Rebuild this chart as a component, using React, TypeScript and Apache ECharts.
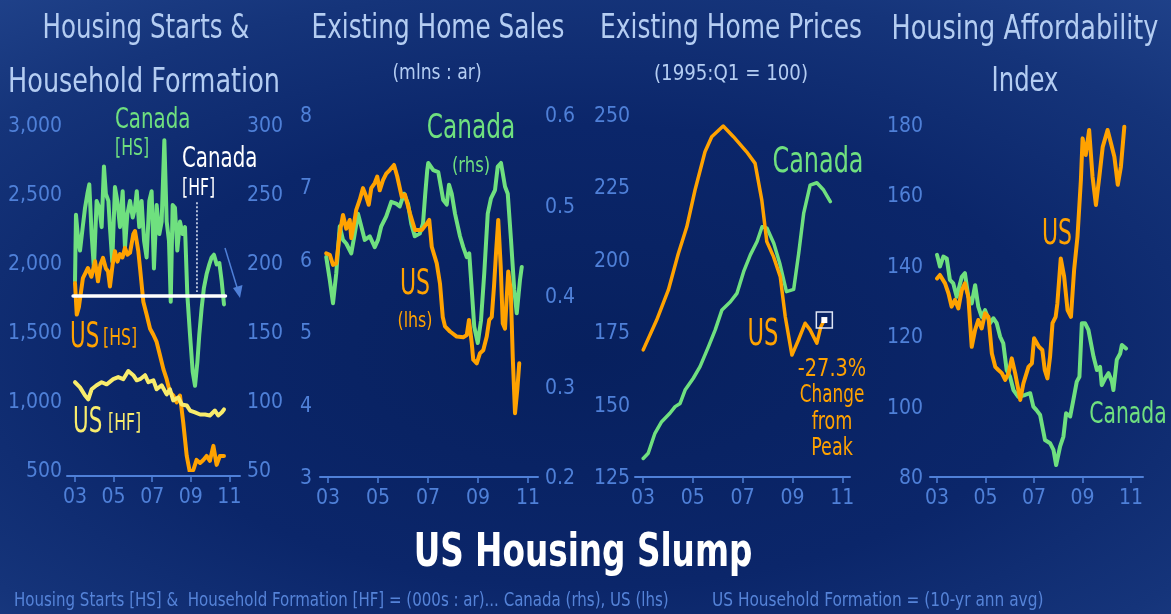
import React, { useEffect, useRef } from 'react';
import * as echarts from 'echarts';

// ---------- DATA ----------
const xTickYears = [2003, 2005, 2007, 2009, 2011];

// Panel 1: Housing starts & household formation (Canada rhs, US lhs; 000s : ar)
const caStarts: [number, number][] = [
  [2003.0, 187], [2003.05, 235], [2003.17, 216], [2003.26, 209], [2003.4, 226], [2003.52, 240], [2003.64, 250],
  [2003.74, 257], [2003.86, 221], [2003.98, 196], [2004.12, 245], [2004.26, 240], [2004.38, 226], [2004.5, 270],
  [2004.6, 250], [2004.73, 245], [2004.81, 226], [2004.93, 201], [2005.07, 255], [2005.19, 245], [2005.33, 226],
  [2005.47, 252], [2005.59, 211], [2005.71, 235], [2005.85, 245], [2005.99, 233], [2006.11, 240], [2006.2, 252],
  [2006.33, 226], [2006.45, 245], [2006.58, 216], [2006.71, 204], [2006.85, 245], [2006.97, 252], [2007.09, 196],
  [2007.23, 242], [2007.37, 221], [2007.49, 230], [2007.63, 289], [2007.75, 230], [2007.87, 216], [2007.96, 172],
  [2008.06, 242], [2008.18, 240], [2008.3, 209], [2008.44, 230], [2008.58, 221], [2008.7, 226], [2008.82, 177],
  [2008.96, 148], [2009.1, 121], [2009.22, 111], [2009.34, 128], [2009.44, 148], [2009.56, 167], [2009.68, 182],
  [2009.82, 192], [2009.96, 199], [2010.08, 204], [2010.2, 206], [2010.34, 199], [2010.48, 200], [2010.6, 187],
  [2010.72, 170],
];
const usStarts: [number, number][] = [
  [2003.0, 1855], [2003.09, 1626], [2003.2, 1680], [2003.41, 1891], [2003.55, 1930], [2003.67, 1964], [2003.85, 1900],
  [2004.04, 2013], [2004.19, 1867], [2004.32, 1990], [2004.45, 2037], [2004.6, 1960], [2004.71, 1940], [2004.81, 1830],
  [2004.95, 1990], [2005.07, 2086], [2005.2, 2010], [2005.33, 2064], [2005.46, 2040], [2005.59, 2110], [2005.72, 2060],
  [2005.85, 2074], [2006.02, 2208], [2006.11, 2232], [2006.28, 2086], [2006.37, 1962], [2006.54, 1720], [2006.71, 1626],
  [2006.89, 1523], [2007.06, 1480], [2007.23, 1428], [2007.4, 1333], [2007.58, 1231], [2007.75, 1158], [2007.92, 1063],
  [2008.09, 1040], [2008.27, 990], [2008.44, 1040], [2008.61, 843], [2008.79, 602], [2008.96, 478], [2009.13, 500],
  [2009.3, 573], [2009.48, 551], [2009.65, 573], [2009.82, 602], [2009.99, 566], [2010.17, 675], [2010.34, 537],
  [2010.51, 602], [2010.72, 602],
];
const usFormation: [number, number][] = [
  [2003.0, 1136], [2003.26, 1099], [2003.52, 1040], [2003.69, 1012], [2003.86, 1085], [2004.12, 1114], [2004.38, 1136],
  [2004.64, 1121], [2004.98, 1158], [2005.24, 1173], [2005.5, 1158], [2005.76, 1217], [2006.02, 1187], [2006.2, 1150],
  [2006.37, 1158], [2006.63, 1187], [2006.8, 1136], [2007.06, 1150], [2007.23, 1085], [2007.49, 1114], [2007.75, 1048],
  [2007.92, 1085], [2008.09, 1004], [2008.35, 1026], [2008.53, 975], [2008.79, 968], [2008.96, 931], [2009.22, 917],
  [2009.48, 902], [2009.74, 902], [2009.99, 895], [2010.25, 931], [2010.42, 895], [2010.6, 917], [2010.72, 939],
];
const caFormation: [number, number][] = [[2002.9, 176], [2010.8, 176]];
const caFormationPointer: [number, number][] = [[2009.32, 244], [2009.32, 179]];

// Panel 2: Existing home sales (mlns : ar) — US lhs, Canada rhs
const usSales: [number, number][] = [
  [2002.93, 6.09], [2003.07, 6.07], [2003.2, 5.93], [2003.33, 5.95], [2003.47, 6.37], [2003.6, 6.62], [2003.73, 6.43],
  [2003.87, 6.55], [2003.93, 6.3], [2004.04, 6.5], [2004.13, 6.69], [2004.27, 6.83], [2004.4, 6.99], [2004.53, 6.87],
  [2004.63, 6.76], [2004.73, 6.99], [2004.87, 7.06], [2004.97, 7.15], [2005.07, 6.96], [2005.2, 7.1], [2005.33, 7.19],
  [2005.47, 7.24], [2005.64, 7.31], [2005.77, 7.15], [2005.95, 6.87], [2006.08, 6.9], [2006.28, 6.64], [2006.48, 6.41],
  [2006.75, 6.41], [2006.95, 6.5], [2007.05, 6.55], [2007.15, 6.18], [2007.35, 5.95], [2007.48, 5.67], [2007.59, 5.21],
  [2007.68, 5.08], [2007.88, 5.01], [2008.15, 4.94], [2008.41, 4.93], [2008.55, 4.96], [2008.64, 5.17], [2008.75, 4.85],
  [2008.81, 4.62], [2008.95, 4.57], [2009.08, 4.71], [2009.21, 4.75], [2009.35, 4.94], [2009.45, 5.17], [2009.55, 5.21],
  [2009.64, 5.63], [2009.72, 6.09], [2009.81, 6.55], [2009.91, 5.9], [2009.99, 5.12], [2010.08, 5.05], [2010.15, 5.49],
  [2010.21, 5.84], [2010.31, 5.58], [2010.39, 4.66], [2010.48, 3.88], [2010.57, 4.2], [2010.65, 4.57],
];
const caSales: [number, number][] = [
  [2002.93, 0.443], [2003.07, 0.418], [2003.2, 0.392], [2003.33, 0.425], [2003.47, 0.477], [2003.6, 0.462],
  [2003.73, 0.458], [2003.93, 0.447], [2004.07, 0.469], [2004.2, 0.491], [2004.33, 0.477], [2004.47, 0.462],
  [2004.67, 0.466], [2004.87, 0.454], [2005.0, 0.462], [2005.13, 0.477], [2005.33, 0.488], [2005.53, 0.504],
  [2005.73, 0.502], [2005.87, 0.499], [2006.04, 0.513], [2006.2, 0.502], [2006.33, 0.48], [2006.47, 0.466],
  [2006.67, 0.469], [2006.8, 0.48], [2006.89, 0.513], [2006.97, 0.539], [2007.01, 0.547], [2007.21, 0.539],
  [2007.41, 0.537], [2007.61, 0.506], [2007.75, 0.501], [2007.84, 0.523], [2007.95, 0.513], [2008.08, 0.491],
  [2008.28, 0.466], [2008.41, 0.454], [2008.55, 0.443], [2008.65, 0.447], [2008.75, 0.407], [2008.85, 0.366],
  [2008.99, 0.348], [2009.12, 0.373], [2009.25, 0.425], [2009.39, 0.491], [2009.52, 0.508], [2009.68, 0.517],
  [2009.79, 0.543], [2009.92, 0.547], [2010.08, 0.521], [2010.19, 0.513], [2010.32, 0.462], [2010.45, 0.407],
  [2010.55, 0.381], [2010.68, 0.418], [2010.75, 0.432],
];

// Panel 3: Existing home prices (1995:Q1 = 100)
const usPrices: [number, number][] = [
  [2003.01, 168.9], [2003.55, 179.2], [2004.02, 189.6], [2004.42, 202.2], [2004.76, 211.4], [2005.09, 224.1],
  [2005.49, 237.3], [2005.76, 242.5], [2006.22, 246.2], [2006.63, 242.5], [2007.16, 237.3], [2007.5, 233.3],
  [2007.77, 220.6], [2007.97, 206.3], [2008.24, 201.1], [2008.51, 194.2], [2008.71, 180.4], [2008.98, 167.1],
  [2009.24, 172.3], [2009.51, 178.1], [2009.71, 175.8], [2009.98, 171.2], [2010.14, 176.9], [2010.28, 179.2],
];
const caPrices: [number, number][] = [
  [2003.01, 131.4], [2003.21, 133.2], [2003.48, 140.1], [2003.75, 144.1], [2004.08, 147.0], [2004.29, 149.3],
  [2004.49, 150.4], [2004.69, 155.0], [2005.02, 159.1], [2005.29, 163.1], [2005.63, 170.0], [2005.9, 175.8],
  [2006.17, 182.7], [2006.51, 185.5], [2006.77, 188.4], [2007.04, 195.9], [2007.31, 201.7], [2007.58, 206.3],
  [2007.78, 211.4], [2007.98, 210.9], [2008.25, 205.7], [2008.49, 198.8], [2008.76, 189.0], [2009.05, 189.8],
  [2009.25, 202.2], [2009.45, 216.0], [2009.71, 225.8], [2009.98, 226.6], [2010.25, 224.1], [2010.52, 220.1],
];

// Panel 4: Housing affordability index
const usAfford: [number, number][] = [
  [2003.0, 136.4], [2003.12, 137.4], [2003.33, 135.0], [2003.47, 132.2], [2003.6, 128.4], [2003.74, 130.3],
  [2003.88, 127.9], [2004.02, 133.1], [2004.15, 135.0], [2004.29, 131.2], [2004.43, 117.0], [2004.57, 121.8],
  [2004.7, 124.6], [2004.84, 122.2], [2004.98, 126.5], [2005.12, 125.5], [2005.26, 115.1], [2005.4, 111.3],
  [2005.53, 110.4], [2005.67, 109.5], [2005.81, 107.6], [2005.95, 109.5], [2006.08, 113.7], [2006.22, 109.5],
  [2006.43, 101.9], [2006.56, 106.6], [2006.77, 111.3], [2006.91, 112.3], [2007.0, 119.4], [2007.2, 117.0],
  [2007.34, 116.1], [2007.44, 110.4], [2007.55, 108.0], [2007.66, 114.2], [2007.76, 123.7], [2007.89, 125.5],
  [2007.96, 129.3], [2008.1, 142.1], [2008.24, 136.9], [2008.38, 127.4], [2008.52, 125.5], [2008.65, 138.8],
  [2008.79, 148.3], [2008.93, 164.4], [2009.0, 176.2], [2009.13, 171.5], [2009.27, 178.6], [2009.41, 165.3],
  [2009.55, 157.3], [2009.69, 165.3], [2009.83, 173.8], [2010.03, 178.6], [2010.17, 174.8], [2010.31, 171.0],
  [2010.45, 163.0], [2010.58, 168.2], [2010.72, 179.5],
];
const caAfford: [number, number][] = [
  [2003.0, 143.1], [2003.12, 139.8], [2003.26, 142.6], [2003.4, 142.1], [2003.53, 136.0], [2003.67, 135.0],
  [2003.81, 131.2], [2004.02, 136.9], [2004.15, 137.9], [2004.29, 131.2], [2004.43, 129.3], [2004.57, 134.5],
  [2004.7, 128.4], [2004.84, 125.5], [2004.98, 127.4], [2005.19, 123.7], [2005.32, 125.1], [2005.46, 123.7],
  [2005.6, 119.9], [2005.73, 118.0], [2005.87, 110.4], [2006.01, 108.5], [2006.15, 104.7], [2006.35, 102.8],
  [2006.63, 103.3], [2006.84, 103.8], [2006.97, 100.0], [2007.1, 99.0], [2007.25, 97.6], [2007.45, 90.5],
  [2007.66, 89.6], [2007.8, 87.7], [2007.91, 83.4], [2008.07, 88.6], [2008.21, 91.5], [2008.32, 98.1],
  [2008.49, 97.2], [2008.62, 101.9], [2008.76, 107.1], [2008.87, 108.5], [2008.97, 123.7], [2009.1, 123.7],
  [2009.24, 121.8], [2009.45, 114.2], [2009.59, 110.4], [2009.72, 111.3], [2009.79, 106.1], [2009.93, 108.0],
  [2010.07, 109.5], [2010.21, 107.1], [2010.27, 104.7], [2010.41, 113.3], [2010.55, 115.1], [2010.62, 117.5],
  [2010.79, 116.5],
];

// ---------- STYLE ----------
const FONT = '"DejaVu Sans Condensed", "Liberation Sans Narrow", "Noto Sans", sans-serif';
const AXIS_BLUE = '#4f80d8';
const TITLE_BLUE = '#b4cdf2';
const GREEN = '#6fe07f';
const ORANGE = '#ffa200';
const YELLOW = '#f8ec6c';
const FOOT_BLUE = '#5583d8';

function xAxisFor(gridIndex: number, min: number, max: number, offset = 0) {
  return {
    type: 'value',
    gridIndex,
    min,
    max,
    offset,
    axisLine: { show: true, onZero: false, lineStyle: { color: AXIS_BLUE, width: 2 } },
    axisTick: { show: true, customValues: xTickYears, length: 6, lineStyle: { color: AXIS_BLUE, width: 1.5 } },
    axisLabel: {
      customValues: xTickYears,
      formatter: (v: number) => String(Math.round(v) % 100).padStart(2, '0'),
      color: AXIS_BLUE,
      fontSize: 21,
      fontFamily: FONT,
      margin: 9,
    },
    splitLine: { show: false },
  };
}

function yAxisFor(gridIndex: number, position: string, min: number, max: number, interval: number, fmt: (v: number) => string, margin: number) {
  return {
    type: 'value',
    gridIndex,
    position,
    min,
    max,
    interval,
    axisLine: { show: false },
    axisTick: { show: false },
    splitLine: { show: false },
    axisLabel: { color: AXIS_BLUE, fontSize: 21, fontFamily: FONT, formatter: fmt, margin },
  };
}

function lineSeries(data: [number, number][], xi: number, yi: number, color: string, width = 4, extra: any = {}) {
  return {
    type: 'line',
    data,
    xAxisIndex: xi,
    yAxisIndex: yi,
    symbol: 'none',
    lineStyle: { color, width, join: 'round', cap: 'round' },
    itemStyle: { color },
    z: 3,
    ...extra,
  };
}

function txt(text: string, x: number, y: number, color: string, fontSize: number, scaleX = 1, align = 'center', fontWeight = 'normal') {
  return {
    type: 'text',
    x,
    y,
    scaleX,
    silent: true,
    style: { text, fill: color, fontSize, fontFamily: FONT, align, verticalAlign: 'middle', fontWeight },
    z: 10,
  };
}

export default function App() {
  const ref = useRef<HTMLDivElement>(null);

  useEffect(() => {
    document.body.style.margin = '0';
    if (!ref.current) return;
    const chart = echarts.init(ref.current, null, { renderer: 'svg' });
    const comma = (v: number) => v.toLocaleString('en-US');
    const option: any = {
      animation: false,
      backgroundColor: 'transparent',
      grid: [
        { left: 67, top: 125, width: 173, height: 345 },
        { left: 320, top: 115, width: 218, height: 362 },
        { left: 635, top: 115, width: 215, height: 362 },
        { left: 930, top: 125, width: 213, height: 352 },
      ],
      xAxis: [
        xAxisFor(0, 2002.585, 2011.55, 6),
        xAxisFor(1, 2002.68, 2011.4),
        xAxisFor(2, 2002.68, 2011.31),
        xAxisFor(3, 2002.71, 2011.49),
      ],
      yAxis: [
        yAxisFor(0, 'left', 500, 3000, 500, comma, 5),
        yAxisFor(0, 'right', 50, 300, 50, (v) => String(v), 7),
        yAxisFor(1, 'left', 3, 8, 1, (v) => String(v), 8),
        yAxisFor(1, 'right', 0.2, 0.6, 0.1, (v) => v.toFixed(1), 7),
        yAxisFor(2, 'left', 125, 250, 25, (v) => String(v), 5),
        yAxisFor(3, 'left', 80, 180, 20, (v) => String(v), 7),
      ],
      series: [
        lineSeries(caStarts, 0, 1, GREEN),
        lineSeries(usStarts, 0, 0, ORANGE),
        lineSeries(usFormation, 0, 0, YELLOW),
        lineSeries(caFormation, 0, 1, '#ffffff', 3.5, { z: 4 }),
        lineSeries(caFormationPointer, 0, 1, '#ffffff', 1.5, {
          lineStyle: { color: '#e8eefc', width: 1.5, type: [2, 2] },
        }),
        lineSeries(caSales, 1, 3, GREEN),
        lineSeries(usSales, 1, 2, ORANGE),
        lineSeries(caPrices, 2, 4, GREEN, 3.5),
        lineSeries(usPrices, 2, 4, ORANGE, 3.5, {
          markPoint: {
            silent: true,
            label: { show: false },
            data: [
              {
                coord: usPrices[usPrices.length - 1],
                symbol: 'rect',
                symbolSize: 16,
                itemStyle: { color: 'rgba(0,0,0,0)', borderColor: '#dfe6f5', borderWidth: 1.5 },
              },
              {
                coord: usPrices[usPrices.length - 1],
                symbol: 'rect',
                symbolSize: 6,
                itemStyle: { color: '#ffffff' },
              },
            ],
          },
        }),
        lineSeries(caAfford, 3, 5, GREEN),
        lineSeries(usAfford, 3, 5, ORANGE),
      ],
      graphic: [
        // panel titles
        txt('Housing Starts &', 146, 27, TITLE_BLUE, 33, 0.825),
        txt('Household Formation', 144, 80, TITLE_BLUE, 33, 0.86),
        txt('Existing Home Sales', 438, 27, TITLE_BLUE, 33, 0.835),
        txt('(mlns : ar)', 437, 72, TITLE_BLUE, 22, 0.87),
        txt('Existing Home Prices', 731, 27, TITLE_BLUE, 33, 0.84),
        txt('(1995:Q1 = 100)', 731, 72, TITLE_BLUE, 22, 0.92),
        txt('Housing Affordability', 1025, 27, TITLE_BLUE, 33, 0.86),
        txt('Index', 1025, 80, TITLE_BLUE, 33, 0.82),
        // panel 1 labels
        txt('Canada', 115, 118, GREEN, 29, 0.76, 'left'),
        txt('[HS]', 115, 147, GREEN, 23, 0.76, 'left'),
        txt('Canada', 182, 157, '#ffffff', 29, 0.76, 'left'),
        txt('[HF]', 182, 187, '#ffffff', 23, 0.76, 'left'),
        txt('US', 70, 335, ORANGE, 35, 0.68, 'left'),
        txt('[HS]', 103, 337, ORANGE, 23, 0.76, 'left'),
        txt('US', 73, 420, YELLOW, 35, 0.68, 'left'),
        txt('[HF]', 108, 422, YELLOW, 23, 0.76, 'left'),
        // arrow
        { type: 'line', silent: true, shape: { x1: 225, y1: 248, x2: 237.5, y2: 289 }, style: { stroke: AXIS_BLUE, lineWidth: 1.5 }, z: 10 },
        { type: 'polygon', silent: true, shape: { points: [[240, 298], [242.5, 285], [233, 288]] }, style: { fill: AXIS_BLUE }, z: 10 },
        // panel 2 labels
        txt('Canada', 471, 126, GREEN, 34, 0.76),
        txt('(rhs)', 471, 164, GREEN, 22, 0.83),
        txt('US', 415, 282, ORANGE, 35, 0.7),
        txt('(lhs)', 415, 320, ORANGE, 22, 0.8),
        // panel 3 labels
        txt('Canada', 818, 160, GREEN, 35, 0.76),
        txt('US', 763, 332, ORANGE, 37, 0.68),
        txt('-27.3%', 832, 367, ORANGE, 25, 0.86),
        txt('Change', 832, 393, ORANGE, 25, 0.75),
        txt('from', 832, 420, ORANGE, 25, 0.78),
        txt('Peak', 832, 446, ORANGE, 25, 0.78),
        // panel 4 labels
        txt('US', 1057, 232, ORANGE, 35, 0.7),
        txt('Canada', 1128, 412, GREEN, 31, 0.73),
        // main title & footnotes
        txt('US Housing Slump', 583, 550, '#ffffff', 46, 0.79, 'center', 'bold'),
        txt('Housing Starts [HS] &  Household Formation [HF] = (000s : ar)... Canada (rhs), US (lhs)', 14, 599, FOOT_BLUE, 19, 0.88, 'left'),
        txt('US Household Formation = (10-yr ann avg)', 712, 599, FOOT_BLUE, 19, 0.9, 'left'),
      ],
    };
    chart.setOption(option);
    return () => chart.dispose();
  }, []);

  return (
    <div
      style={{
        position: 'fixed',
        left: 0,
        top: 0,
        width: 1171,
        height: 614,
        background:
          'radial-gradient(ellipse 80% 75% at 50% 58%, #07205e 0%, #0b266a 50%, #15347a 80%, #1f4189 100%)',
      }}
    >
      <div ref={ref} style={{ width: 1171, height: 614 }} />
    </div>
  );
}
